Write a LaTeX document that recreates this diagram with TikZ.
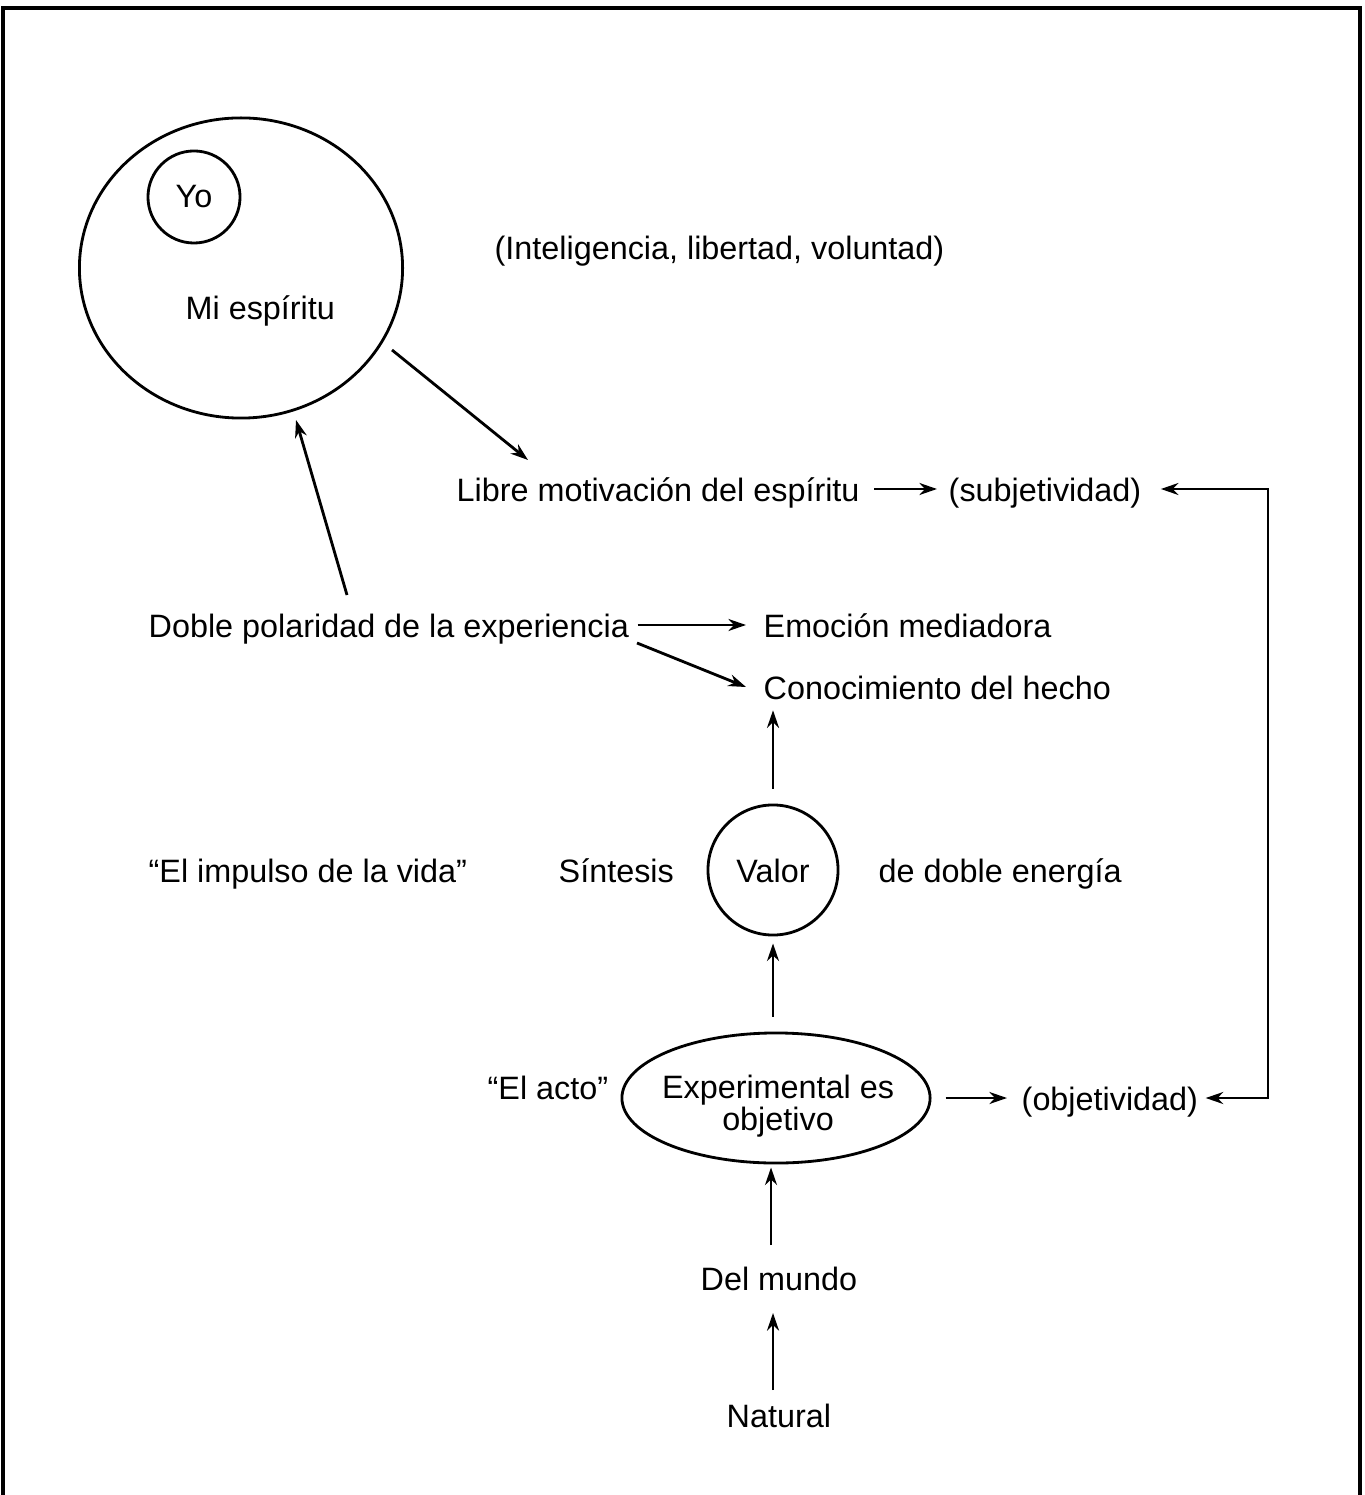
\documentclass[tikz,border=0pt]{standalone}
\usepackage{fontspec}
\setmainfont{Liberation Sans}
\usetikzlibrary{arrows.meta,shapes.geometric}
\begin{document}
\begin{tikzpicture}[x=0.01cm,y=-0.01cm,
  lbl/.style={font=\fontsize{9.2}{11}\selectfont, inner sep=0pt, text height=0.716em, text depth=0pt, anchor=west},
  shp/.style={draw, line width=0.8pt, inner sep=0pt, font=\fontsize{9.2}{9.2}\selectfont, align=center},
  arr/.style={line width=0.8pt, -{Stealth[length=5pt,width=3.4pt]}},
  arrb/.style={line width=0.8pt, {Stealth[length=5pt,width=3.4pt]}-{Stealth[length=5pt,width=3.4pt]}}]
\useasboundingbox (0,0) rectangle (1364,1495);
% frame
\draw[line width=1pt] (3,1495) -- (3,8) -- (1360,8) -- (1360,1495);

% shapes
\node[shp, ellipse, minimum width=3.23cm, minimum height=3.0cm] (esp) at (241,268) {};
\node[shp, circle, minimum size=0.92cm] (yo) at (194,197) {Yo};
\node[shp, circle, minimum size=1.3cm, text height=0.716em, text depth=0pt] (valor) at (773,870) {Valor};
\node[shp, ellipse, minimum width=3.08cm, minimum height=1.3cm] (exp) at (776,1098) {};
\node[font=\fontsize{9.2}{9.2}\selectfont, align=center, inner sep=0pt] (exptxt) at (778,1106) {Experimental es\\objetivo};

% labels
\node[lbl] (mi) at (185,307) {Mi espíritu};
\node[lbl] (intel) at (494,247) {(Inteligencia, libertad, voluntad)};
\node[lbl] (libre) at (456,489) {Libre motivación del espíritu};
\node[lbl] (subj) at (948,489) {(subjetividad)};
\node[lbl] (doble) at (148,625) {Doble polaridad de la experiencia};
\node[lbl] (emo) at (763,625) {Emoción mediadora};
\node[lbl] (con) at (763,687) {Conocimiento del hecho};
\node[lbl] (imp) at (148,870) {“El impulso de la vida”};
\node[lbl] (sint) at (558,870) {Síntesis};
\node[lbl] (dde) at (878,870) {de doble energía};
\node[lbl] (acto) at (487,1087) {“El acto”};
\node[lbl] (obj) at (1021,1098) {(objetividad)};
\node[lbl] (mundo) at (700,1278) {Del mundo};
\node[lbl] (nat) at (726,1415) {Natural};

% free ends
\coordinate (espout) at (392,350);
\coordinate (librein) at (528,460);
\coordinate (dobleout) at (347,595);
\coordinate (espin) at (296,420);
\coordinate (dobleout2) at (637,643);
\coordinate (rt) at (1268,489);
\coordinate (rb) at (1268,1098);

% connectors
\draw[arr] (espout) -- (librein);
\draw[arr] (dobleout) -- (espin);
\draw[arr] ([xshift=0.14cm]libre.east) -- ([xshift=-0.11cm]subj.west);
\draw[arrb] ([xshift=0.19cm]subj.east) -- (rt) -- (rb) -- ([xshift=0.07cm]obj.east);
\draw[arr] ([xshift=0.08cm]doble.east) -- ([xshift=-0.17cm]emo.west);
\draw[arr] (dobleout2) -- ([xshift=-0.17cm]con.west);
\draw[arr] ([yshift=0.15cm]valor.north) -- ([yshift=-0.10cm]con.south -| valor.north);
\draw[arr] ([yshift=0.15cm]exp.north -| valor.south) -- ([yshift=-0.07cm]valor.south);
\draw[arr] ([xshift=0.14cm]exp.east) -- ([xshift=-0.14cm]obj.west);
\draw[arr] (771,1245) -- ([yshift=-0.03cm]exp.south -| 771,0);
\draw[arr] (773,1390) -- (773,1313);
\end{tikzpicture}
\end{document}
